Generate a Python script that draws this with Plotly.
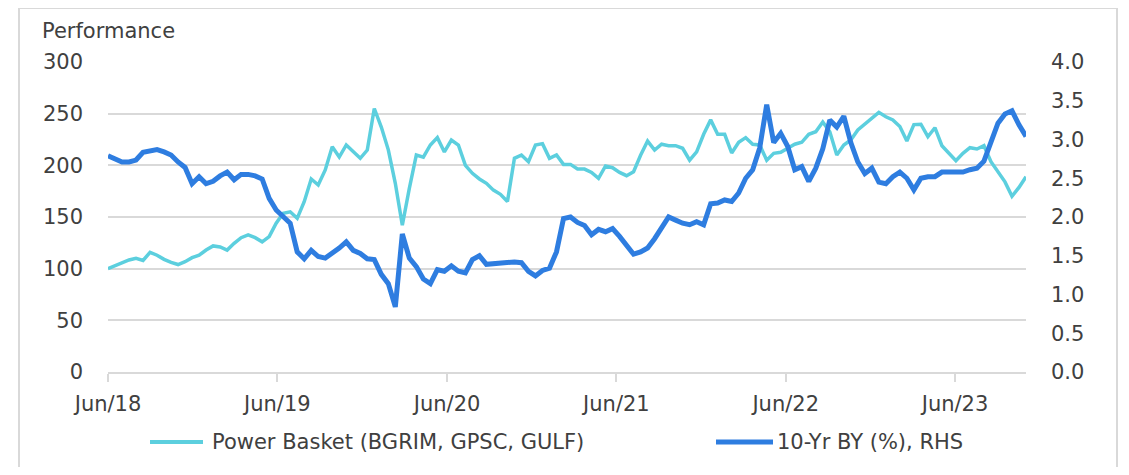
import pandas as pd
import plotly.graph_objects as go

# ---- data (semi-monthly samples Jun-2018 .. Nov-2023) ----
start_date = "2018-06-01"
end_date = "2023-11-01"

power_basket = [
    100, 102.9, 105.2, 108.4, 110, 108, 115.8, 113, 109, 106,
    104, 106.7, 110.6, 113, 118, 122, 121, 118, 124.5, 130,
    132.6, 130, 126, 131, 144, 153.6, 155, 148.7, 164.8, 186.8,
    181, 195.5, 218, 208, 219.7, 213, 206.8, 214.8, 255, 237,
    215, 182.6, 142, 177.7, 210, 208, 219.7, 226.8, 213, 224.5,
    219.7, 200, 192.3, 186.8, 182.6, 176, 172, 165, 206.8, 210,
    203.5, 219.7, 221, 206.8, 210, 200.9, 200.9, 196.4, 196.4, 193.2,
    187.4, 199.4, 197.7, 193.2, 190, 193.8, 209.8, 223.5, 214.8, 220.4,
    219, 219, 216.5, 205, 213, 230, 244, 230, 230, 212,
    222.3, 226.8, 220.4, 219.7, 205, 211.6, 212.6, 216.5, 220.4, 222.3,
    230, 232.5, 242, 232.5, 210, 219.7, 224.5, 234.2, 239.8, 245.5,
    251.3, 247, 243.9, 237.6, 223.5, 239.4, 239.8, 227.7, 236.4, 219,
    211.6, 204.4, 211.6, 217.1, 215.8, 219, 203.5, 193.8, 184, 170,
    178.6, 189,
]

bond_yield_10y = [
    2.79, 2.75, 2.71, 2.71, 2.735, 2.835, 2.85, 2.87, 2.84, 2.80,
    2.71, 2.64, 2.43, 2.52, 2.43, 2.46, 2.53, 2.58, 2.48, 2.55,
    2.55, 2.53, 2.49, 2.24, 2.09, 2.00, 1.92, 1.55, 1.46, 1.57,
    1.49, 1.47, 1.53, 1.60, 1.68, 1.57, 1.53, 1.46, 1.45, 1.26,
    1.14, 0.84, 1.78, 1.47, 1.36, 1.20, 1.14, 1.32, 1.30, 1.37,
    1.30, 1.28, 1.45, 1.50, 1.39, 1.40, 1.41, 1.41, 1.42, 1.41,
    1.30, 1.24, 1.31, 1.34, 1.55, 1.98, 2.00, 1.93, 1.89, 1.77,
    1.84, 1.81, 1.85, 1.75, 1.63, 1.52, 1.55, 1.60, 1.72, 1.86,
    2.00, 1.96, 1.92, 1.90, 1.94, 1.90, 2.17, 2.18, 2.22, 2.20,
    2.31, 2.50, 2.61, 2.89, 3.45, 2.96, 3.08, 2.91, 2.61, 2.65,
    2.46, 2.63, 2.88, 3.25, 3.16, 3.30, 2.96, 2.71, 2.56, 2.63,
    2.45, 2.43, 2.52, 2.58, 2.50, 2.35, 2.50, 2.52, 2.52, 2.58,
    2.58, 2.59, 2.58, 2.61, 2.63, 2.72, 2.95, 3.21, 3.33, 3.37,
    3.19, 3.04,
]

tick_dates = ["2018-06-01", "2019-06-01", "2020-06-01", "2021-06-01", "2022-06-01", "2023-06-01"]
tick_labels = ["Jun/18", "Jun/19", "Jun/20", "Jun/21", "Jun/22", "Jun/23"]
left_ticks = [0, 50, 100, 150, 200, 250, 300]
right_ticks = [0, 0.5, 1.0, 1.5, 2.0, 2.5, 3.0, 3.5, 4.0]

series_names = ["Power Basket (BGRIM, GPSC, GULF)", "10-Yr BY (%), RHS"]
left_title = "Performance"

dates = pd.date_range(start=start_date, end=end_date, periods=len(power_basket))

# ---- style ----
CYAN = "#5ccfde"
BLUE = "#2e7de0"
GRID = "#d9d9d9"
TEXT = "#404040"
FONT = "DejaVu Sans"
FS = 21

# page body has an 8px margin: figure is placed at (8, 8) on screen
OFF = 8
W, H = 1129 - OFF, 475 - 2 * OFF
# plot area in screen pixels
SX0, SX1, SY0, SY1 = 108, 1026, 62, 372
L, T = SX0 - OFF, SY0 - OFF
R = W - (SX1 - OFF)
B = H - (SY1 - OFF)
PW, PH = SX1 - SX0, SY1 - SY0


def px_x(sx):
    return (sx - SX0) / PW


def px_y(sy):
    return (SY1 - sy) / PH


fig = go.Figure()
fig.add_trace(go.Scatter(x=dates, y=power_basket, mode="lines", name=series_names[0],
                         line=dict(color=CYAN, width=3.5), yaxis="y"))
fig.add_trace(go.Scatter(x=dates, y=bond_yield_10y, mode="lines", name=series_names[1],
                         line=dict(color=BLUE, width=5), yaxis="y2"))

fig.update_layout(
    width=W, height=H,
    margin=dict(l=L, r=R, t=T, b=B, pad=0),
    paper_bgcolor="white", plot_bgcolor="white",
    showlegend=False,
    font=dict(family=FONT, size=FS, color=TEXT),
    xaxis=dict(
        type="date", range=[start_date, end_date],
        tickvals=tick_dates, ticktext=tick_labels,
        showgrid=False, showline=True, linecolor=GRID, linewidth=2,
        ticks="outside", ticklen=8, tickwidth=2, tickcolor=GRID,
        ticklabelstandoff=4, zeroline=False,
    ),
    yaxis=dict(
        range=[0, 300], tickvals=left_ticks,
        showgrid=True, gridcolor=GRID, gridwidth=2,
        zeroline=False, showline=False, ticks="",
        ticklabelstandoff=24,
    ),
    yaxis2=dict(
        range=[0, 4], tickvals=right_ticks, tickformat=".1f",
        overlaying="y", side="right",
        showgrid=False, zeroline=False, showline=False, ticks="",
        ticklabelstandoff=24,
    ),
)

# outer frame
fig.add_shape(type="rect", xref="paper", yref="paper",
              x0=px_x(19), x1=px_x(1117), y0=px_y(495), y1=px_y(8),
              line=dict(color=GRID, width=2), fillcolor="rgba(0,0,0,0)", layer="below")

# axis title
fig.add_annotation(text=left_title, xref="paper", yref="paper",
                   x=px_x(40), y=px_y(31), xanchor="left", yanchor="middle",
                   showarrow=False, font=dict(family=FONT, size=FS, color=TEXT))

# legend (manual)
ly = px_y(442)
fig.add_shape(type="line", xref="paper", yref="paper",
              x0=px_x(150), x1=px_x(203), y0=ly, y1=ly, line=dict(color=CYAN, width=4))
fig.add_annotation(text=series_names[0], xref="paper", yref="paper",
                   x=px_x(210), y=ly, xanchor="left", yanchor="middle",
                   showarrow=False, font=dict(family=FONT, size=FS, color=TEXT))
fig.add_shape(type="line", xref="paper", yref="paper",
              x0=px_x(716), x1=px_x(773), y0=ly, y1=ly, line=dict(color=BLUE, width=5))
fig.add_annotation(text=series_names[1], xref="paper", yref="paper",
                   x=px_x(775), y=ly, xanchor="left", yanchor="middle",
                   showarrow=False, font=dict(family=FONT, size=FS, color=TEXT))

fig.write_html("out.html")
